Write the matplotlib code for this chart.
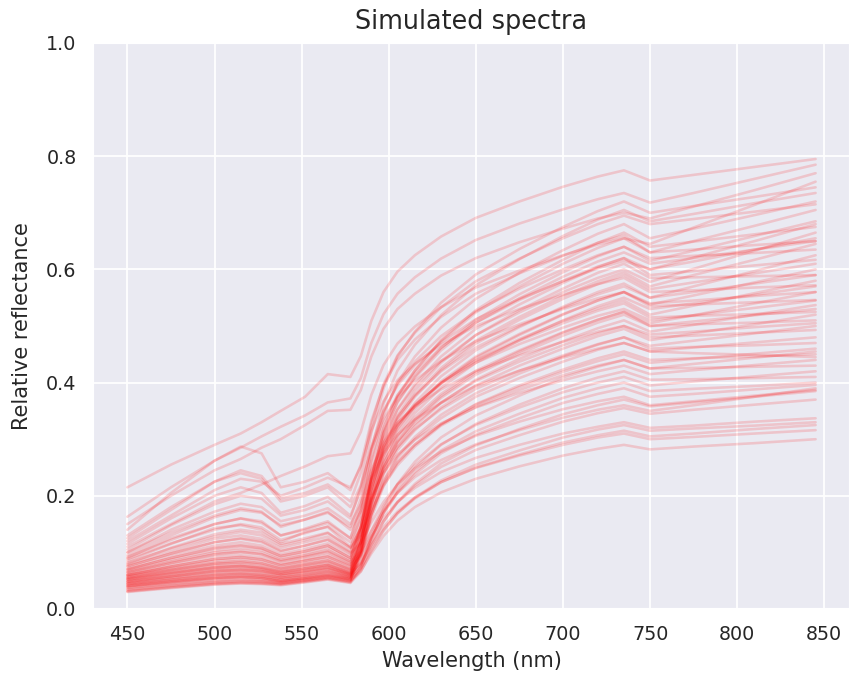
import matplotlib
matplotlib.use("Agg")
import matplotlib.pyplot as plt
import seaborn as sns

# Wavelengths (nm) at which each simulated spectrum was read off the picture
wavelengths = [450, 475, 500, 515, 527, 538, 552, 565, 578, 584, 590, 597,
               605, 615, 630, 650, 675, 700, 720, 735, 750, 775, 810, 845]

s01 = [0.215, 0.255, 0.29, 0.31, 0.33, 0.35, 0.375, 0.415, 0.41, 0.447, 0.509, 0.560, 0.596, 0.625, 0.658, 0.691, 0.720, 0.746, 0.764, 0.775, 0.757, 0.767, 0.781, 0.795]
s02 = [0.163, 0.215, 0.262, 0.285, 0.305, 0.322, 0.342, 0.365, 0.372, 0.408, 0.470, 0.521, 0.557, 0.586, 0.619, 0.652, 0.681, 0.706, 0.724, 0.735, 0.718, 0.735, 0.760, 0.785]
s03 = [0.15, 0.2, 0.245, 0.265, 0.285, 0.3, 0.325, 0.35, 0.352, 0.387, 0.446, 0.495, 0.530, 0.557, 0.589, 0.620, 0.648, 0.672, 0.690, 0.70, 0.69, 0.711, 0.740, 0.77]
s04 = [0.11, 0.15, 0.19, 0.205, 0.22, 0.235, 0.252, 0.27, 0.275, 0.313, 0.378, 0.431, 0.469, 0.499, 0.533, 0.568, 0.598, 0.625, 0.644, 0.655, 0.645, 0.674, 0.714, 0.755]
s05 = [0.14, 0.205, 0.262, 0.287, 0.275, 0.215, 0.225, 0.24, 0.21, 0.255, 0.332, 0.395, 0.440, 0.476, 0.516, 0.557, 0.593, 0.624, 0.647, 0.66, 0.63, 0.635, 0.643, 0.65]
s06 = [0.125, 0.175, 0.225, 0.245, 0.235, 0.195, 0.205, 0.22, 0.19, 0.241, 0.326, 0.397, 0.448, 0.488, 0.533, 0.579, 0.619, 0.655, 0.680, 0.695, 0.68, 0.689, 0.702, 0.715]
s07 = [0.12, 0.165, 0.21, 0.23, 0.225, 0.2, 0.215, 0.232, 0.215, 0.252, 0.315, 0.367, 0.404, 0.433, 0.467, 0.500, 0.530, 0.555, 0.574, 0.585, 0.56, 0.563, 0.568, 0.572]
s08 = [0.105, 0.148, 0.185, 0.2, 0.195, 0.165, 0.175, 0.19, 0.16, 0.216, 0.311, 0.390, 0.446, 0.490, 0.541, 0.591, 0.636, 0.675, 0.703, 0.72, 0.70, 0.712, 0.728, 0.745]
s09 = [0.1, 0.14, 0.172, 0.186, 0.18, 0.155, 0.165, 0.178, 0.15, 0.185, 0.245, 0.294, 0.329, 0.357, 0.388, 0.420, 0.448, 0.472, 0.490, 0.5, 0.48, 0.483, 0.488, 0.493]
s10 = [0.095, 0.13, 0.162, 0.175, 0.17, 0.148, 0.158, 0.17, 0.145, 0.195, 0.279, 0.348, 0.398, 0.437, 0.482, 0.526, 0.566, 0.600, 0.625, 0.64, 0.615, 0.633, 0.659, 0.685]
s11 = [0.09, 0.125, 0.15, 0.16, 0.155, 0.13, 0.14, 0.152, 0.125, 0.175, 0.259, 0.328, 0.378, 0.417, 0.462, 0.506, 0.546, 0.580, 0.605, 0.62, 0.59, 0.597, 0.607, 0.617]
s12 = [0.085, 0.115, 0.143, 0.148, 0.14, 0.118, 0.136, 0.145, 0.11, 0.142, 0.196, 0.241, 0.273, 0.299, 0.328, 0.356, 0.382, 0.404, 0.420, 0.43, 0.415, 0.422, 0.431, 0.44]
s13 = [0.08, 0.108, 0.132, 0.14, 0.135, 0.115, 0.125, 0.135, 0.108, 0.165, 0.262, 0.343, 0.400, 0.446, 0.497, 0.548, 0.594, 0.634, 0.663, 0.68, 0.655, 0.672, 0.696, 0.72]
s14 = [0.078, 0.102, 0.124, 0.13, 0.124, 0.108, 0.118, 0.128, 0.102, 0.146, 0.220, 0.282, 0.325, 0.360, 0.400, 0.439, 0.474, 0.505, 0.527, 0.54, 0.515, 0.518, 0.521, 0.525]
s15 = [0.075, 0.098, 0.118, 0.125, 0.12, 0.103, 0.112, 0.122, 0.098, 0.117, 0.153, 0.189, 0.220, 0.248, 0.278, 0.306, 0.331, 0.353, 0.367, 0.375, 0.36, 0.367, 0.377, 0.387]
s16 = [0.072, 0.094, 0.112, 0.118, 0.112, 0.097, 0.106, 0.116, 0.094, 0.145, 0.231, 0.302, 0.352, 0.393, 0.438, 0.484, 0.524, 0.560, 0.585, 0.6, 0.578, 0.601, 0.633, 0.665]
s17 = [0.07, 0.09, 0.108, 0.113, 0.108, 0.094, 0.102, 0.112, 0.09, 0.136, 0.213, 0.277, 0.322, 0.359, 0.399, 0.440, 0.477, 0.509, 0.531, 0.545, 0.52, 0.536, 0.558, 0.58]
s18 = [0.068, 0.087, 0.103, 0.108, 0.104, 0.09, 0.098, 0.108, 0.087, 0.144, 0.240, 0.320, 0.377, 0.422, 0.473, 0.524, 0.570, 0.610, 0.638, 0.655, 0.63, 0.650, 0.677, 0.705]
s19 = [0.066, 0.084, 0.1, 0.104, 0.1, 0.087, 0.095, 0.104, 0.084, 0.124, 0.191, 0.246, 0.286, 0.318, 0.353, 0.389, 0.421, 0.448, 0.468, 0.48, 0.46, 0.463, 0.466, 0.47]
s20 = [0.064, 0.081, 0.096, 0.1, 0.096, 0.084, 0.092, 0.1, 0.081, 0.137, 0.232, 0.310, 0.366, 0.411, 0.461, 0.511, 0.556, 0.595, 0.623, 0.64, 0.62, 0.624, 0.629, 0.635]
s21 = [0.062, 0.078, 0.092, 0.095, 0.091, 0.08, 0.088, 0.096, 0.078, 0.096, 0.128, 0.161, 0.189, 0.214, 0.242, 0.267, 0.290, 0.310, 0.322, 0.33, 0.32, 0.324, 0.331, 0.337]
s22 = [0.06, 0.075, 0.088, 0.091, 0.087, 0.077, 0.085, 0.092, 0.075, 0.130, 0.222, 0.299, 0.353, 0.397, 0.446, 0.495, 0.538, 0.576, 0.604, 0.62, 0.6, 0.621, 0.650, 0.68]
s23 = [0.06, 0.073, 0.085, 0.088, 0.084, 0.074, 0.082, 0.089, 0.072, 0.117, 0.194, 0.258, 0.303, 0.339, 0.380, 0.421, 0.457, 0.489, 0.511, 0.525, 0.5, 0.503, 0.506, 0.51]
s24 = [0.058, 0.071, 0.082, 0.085, 0.081, 0.072, 0.08, 0.086, 0.07, 0.094, 0.138, 0.182, 0.220, 0.254, 0.291, 0.325, 0.356, 0.383, 0.400, 0.41, 0.395, 0.402, 0.411, 0.42]
s25 = [0.057, 0.069, 0.08, 0.082, 0.078, 0.069, 0.077, 0.083, 0.068, 0.121, 0.210, 0.284, 0.337, 0.379, 0.426, 0.474, 0.516, 0.553, 0.579, 0.595, 0.57, 0.590, 0.617, 0.645]
s26 = [0.055, 0.067, 0.077, 0.079, 0.075, 0.067, 0.075, 0.081, 0.066, 0.115, 0.199, 0.269, 0.318, 0.358, 0.402, 0.446, 0.486, 0.521, 0.545, 0.56, 0.535, 0.538, 0.542, 0.546]
s27 = [0.054, 0.065, 0.075, 0.077, 0.073, 0.065, 0.072, 0.078, 0.064, 0.081, 0.113, 0.145, 0.172, 0.197, 0.224, 0.249, 0.271, 0.290, 0.303, 0.31, 0.3, 0.304, 0.310, 0.316]
s28 = [0.053, 0.064, 0.073, 0.075, 0.071, 0.064, 0.071, 0.077, 0.063, 0.118, 0.211, 0.287, 0.342, 0.386, 0.435, 0.484, 0.528, 0.566, 0.594, 0.61, 0.585, 0.586, 0.588, 0.59]
s29 = [0.052, 0.062, 0.071, 0.073, 0.07, 0.062, 0.069, 0.075, 0.062, 0.101, 0.167, 0.221, 0.260, 0.291, 0.326, 0.361, 0.392, 0.419, 0.438, 0.45, 0.435, 0.442, 0.451, 0.46]
s30 = [0.05, 0.06, 0.069, 0.071, 0.068, 0.061, 0.067, 0.073, 0.061, 0.112, 0.200, 0.272, 0.323, 0.364, 0.411, 0.457, 0.498, 0.534, 0.560, 0.575, 0.55, 0.570, 0.597, 0.625]
s31 = [0.049, 0.058, 0.067, 0.069, 0.066, 0.059, 0.065, 0.071, 0.06, 0.083, 0.126, 0.169, 0.205, 0.238, 0.275, 0.308, 0.337, 0.364, 0.380, 0.39, 0.375, 0.380, 0.388, 0.396]
s32 = [0.048, 0.057, 0.065, 0.067, 0.064, 0.058, 0.064, 0.07, 0.059, 0.103, 0.177, 0.238, 0.281, 0.316, 0.356, 0.395, 0.430, 0.460, 0.482, 0.495, 0.475, 0.487, 0.503, 0.52]
s33 = [0.046, 0.055, 0.063, 0.065, 0.062, 0.056, 0.062, 0.068, 0.058, 0.105, 0.184, 0.250, 0.296, 0.334, 0.376, 0.418, 0.455, 0.488, 0.511, 0.525, 0.505, 0.519, 0.540, 0.56]
s34 = [0.045, 0.054, 0.061, 0.063, 0.06, 0.055, 0.06, 0.066, 0.057, 0.078, 0.117, 0.155, 0.188, 0.218, 0.251, 0.281, 0.307, 0.331, 0.346, 0.355, 0.345, 0.352, 0.361, 0.37]
s35 = [0.044, 0.052, 0.059, 0.061, 0.058, 0.053, 0.058, 0.064, 0.056, 0.106, 0.192, 0.263, 0.313, 0.353, 0.399, 0.444, 0.484, 0.520, 0.545, 0.56, 0.538, 0.554, 0.577, 0.60]
s36 = [0.042, 0.05, 0.057, 0.059, 0.057, 0.052, 0.057, 0.062, 0.055, 0.097, 0.167, 0.225, 0.267, 0.300, 0.337, 0.375, 0.408, 0.437, 0.458, 0.47, 0.455, 0.462, 0.471, 0.48]
s37 = [0.041, 0.049, 0.055, 0.057, 0.055, 0.05, 0.055, 0.06, 0.054, 0.072, 0.106, 0.140, 0.169, 0.195, 0.224, 0.250, 0.273, 0.294, 0.307, 0.315, 0.305, 0.310, 0.318, 0.325]
s38 = [0.04, 0.047, 0.054, 0.056, 0.054, 0.049, 0.054, 0.059, 0.053, 0.099, 0.176, 0.240, 0.286, 0.323, 0.364, 0.405, 0.442, 0.473, 0.496, 0.51, 0.49, 0.502, 0.520, 0.537]
s39 = [0.038, 0.046, 0.052, 0.054, 0.052, 0.048, 0.053, 0.058, 0.052, 0.092, 0.161, 0.217, 0.258, 0.290, 0.326, 0.362, 0.395, 0.423, 0.443, 0.455, 0.44, 0.443, 0.446, 0.45]
s40 = [0.037, 0.044, 0.05, 0.052, 0.05, 0.047, 0.052, 0.057, 0.051, 0.094, 0.167, 0.227, 0.270, 0.304, 0.343, 0.381, 0.416, 0.446, 0.467, 0.48, 0.465, 0.474, 0.487, 0.50]
s41 = [0.035, 0.042, 0.048, 0.05, 0.049, 0.046, 0.051, 0.056, 0.05, 0.067, 0.098, 0.129, 0.156, 0.180, 0.206, 0.230, 0.252, 0.271, 0.283, 0.29, 0.282, 0.287, 0.293, 0.30]
s42 = [0.034, 0.041, 0.047, 0.049, 0.048, 0.045, 0.05, 0.055, 0.049, 0.076, 0.127, 0.178, 0.221, 0.260, 0.303, 0.342, 0.377, 0.409, 0.428, 0.44, 0.425, 0.426, 0.428, 0.43]
s43 = [0.032, 0.039, 0.045, 0.047, 0.046, 0.044, 0.049, 0.054, 0.048, 0.074, 0.122, 0.171, 0.212, 0.249, 0.290, 0.327, 0.361, 0.390, 0.409, 0.42, 0.405, 0.406, 0.408, 0.41]
s44 = [0.031, 0.038, 0.044, 0.046, 0.045, 0.043, 0.048, 0.053, 0.047, 0.070, 0.112, 0.154, 0.189, 0.221, 0.257, 0.289, 0.318, 0.344, 0.360, 0.37, 0.358, 0.365, 0.375, 0.385]
s45 = [0.03, 0.037, 0.043, 0.045, 0.044, 0.042, 0.047, 0.052, 0.046, 0.066, 0.102, 0.138, 0.169, 0.197, 0.227, 0.255, 0.280, 0.303, 0.317, 0.325, 0.315, 0.319, 0.324, 0.33]
s46 = [0.13, 0.18, 0.225, 0.24, 0.23, 0.19, 0.2, 0.215, 0.18, 0.218, 0.283, 0.336, 0.374, 0.404, 0.438, 0.473, 0.503, 0.530, 0.549, 0.56, 0.54, 0.545, 0.553, 0.56]
s47 = [0.115, 0.16, 0.2, 0.215, 0.205, 0.17, 0.182, 0.198, 0.165, 0.21, 0.287, 0.350, 0.395, 0.431, 0.471, 0.512, 0.548, 0.579, 0.602, 0.615, 0.6, 0.614, 0.635, 0.655]
s48 = [0.1, 0.135, 0.165, 0.178, 0.172, 0.145, 0.158, 0.172, 0.14, 0.173, 0.229, 0.275, 0.308, 0.335, 0.364, 0.394, 0.421, 0.444, 0.460, 0.47, 0.455, 0.452, 0.449, 0.445]
s49 = [0.092, 0.122, 0.15, 0.16, 0.152, 0.13, 0.142, 0.155, 0.125, 0.183, 0.282, 0.363, 0.421, 0.467, 0.519, 0.572, 0.618, 0.659, 0.688, 0.705, 0.685, 0.698, 0.717, 0.735]
s50 = [0.088, 0.116, 0.14, 0.15, 0.144, 0.122, 0.134, 0.146, 0.118, 0.159, 0.229, 0.287, 0.328, 0.361, 0.398, 0.435, 0.468, 0.497, 0.518, 0.53, 0.51, 0.519, 0.532, 0.545]
s51 = [0.082, 0.107, 0.128, 0.136, 0.13, 0.112, 0.122, 0.134, 0.108, 0.131, 0.174, 0.218, 0.254, 0.287, 0.324, 0.357, 0.387, 0.413, 0.430, 0.44, 0.425, 0.433, 0.444, 0.455]
s52 = [0.076, 0.098, 0.118, 0.124, 0.118, 0.102, 0.112, 0.123, 0.1, 0.147, 0.227, 0.293, 0.340, 0.377, 0.420, 0.462, 0.500, 0.532, 0.556, 0.57, 0.55, 0.560, 0.575, 0.59]
s53 = [0.07, 0.09, 0.107, 0.112, 0.107, 0.093, 0.102, 0.112, 0.09, 0.144, 0.236, 0.311, 0.365, 0.409, 0.457, 0.506, 0.549, 0.587, 0.614, 0.63, 0.61, 0.620, 0.635, 0.65]
s54 = [0.065, 0.082, 0.097, 0.101, 0.097, 0.085, 0.093, 0.102, 0.083, 0.102, 0.138, 0.174, 0.205, 0.233, 0.263, 0.291, 0.316, 0.338, 0.352, 0.36, 0.35, 0.360, 0.375, 0.39]
s55 = [0.06, 0.075, 0.088, 0.092, 0.088, 0.078, 0.086, 0.093, 0.077, 0.119, 0.191, 0.250, 0.293, 0.327, 0.365, 0.403, 0.437, 0.466, 0.487, 0.5, 0.485, 0.490, 0.498, 0.505]
s56 = [0.056, 0.069, 0.08, 0.083, 0.08, 0.071, 0.078, 0.085, 0.07, 0.130, 0.231, 0.314, 0.374, 0.421, 0.475, 0.528, 0.576, 0.617, 0.647, 0.665, 0.64, 0.649, 0.662, 0.675]
s57 = [0.052, 0.063, 0.073, 0.076, 0.073, 0.066, 0.072, 0.078, 0.065, 0.118, 0.207, 0.280, 0.333, 0.375, 0.422, 0.469, 0.511, 0.548, 0.574, 0.59, 0.565, 0.577, 0.593, 0.61]
s58 = [0.048, 0.058, 0.067, 0.069, 0.067, 0.061, 0.067, 0.073, 0.061, 0.107, 0.185, 0.249, 0.295, 0.332, 0.373, 0.414, 0.451, 0.483, 0.506, 0.52, 0.5, 0.508, 0.519, 0.53]
s59 = [0.044, 0.052, 0.06, 0.062, 0.06, 0.055, 0.06, 0.066, 0.056, 0.080, 0.125, 0.170, 0.207, 0.242, 0.280, 0.314, 0.345, 0.373, 0.390, 0.40, 0.385, 0.389, 0.394, 0.40]
s60 = [0.04, 0.048, 0.055, 0.057, 0.055, 0.05, 0.055, 0.061, 0.052, 0.102, 0.187, 0.256, 0.306, 0.346, 0.391, 0.435, 0.475, 0.510, 0.535, 0.55, 0.53, 0.540, 0.555, 0.57]

spectra = [s01, s02, s03, s04, s05, s06, s07, s08, s09, s10, s11, s12, s13, s14, s15,
           s16, s17, s18, s19, s20, s21, s22, s23, s24, s25, s26, s27, s28, s29, s30,
           s31, s32, s33, s34, s35, s36, s37, s38, s39, s40, s41, s42, s43, s44, s45,
           s46, s47, s48, s49, s50, s51, s52, s53, s54, s55, s56, s57, s58, s59, s60]

title = "Simulated spectra"
xlabel = "Wavelength (nm)"
ylabel = "Relative reflectance"

sns.set_theme(style="darkgrid")
plt.rcParams['font.family'] = ['DejaVu Sans']

DPI = 125
fig = plt.figure(figsize=(851 / DPI, 680 / DPI), dpi=DPI)
ax = fig.add_axes([93 / 851, 1 - 609 / 680, 757 / 851, (609 - 43) / 680])

for s in spectra:
    ax.plot(wavelengths, s, color="red", alpha=0.16, linewidth=1.5)

ax.set_ylim(0, 1.0)
ax.set_yticks([0.0, 0.2, 0.4, 0.6, 0.8, 1.0])
ax.set_xticks([450, 500, 550, 600, 650, 700, 750, 800, 850])
ax.tick_params(labelsize=11)
ax.set_xlabel(xlabel, fontsize=12)
ax.set_ylabel(ylabel, fontsize=12, labelpad=8)
ax.set_title(title, fontsize=14.7, pad=8)

fig.savefig("out.png", dpi=DPI)
